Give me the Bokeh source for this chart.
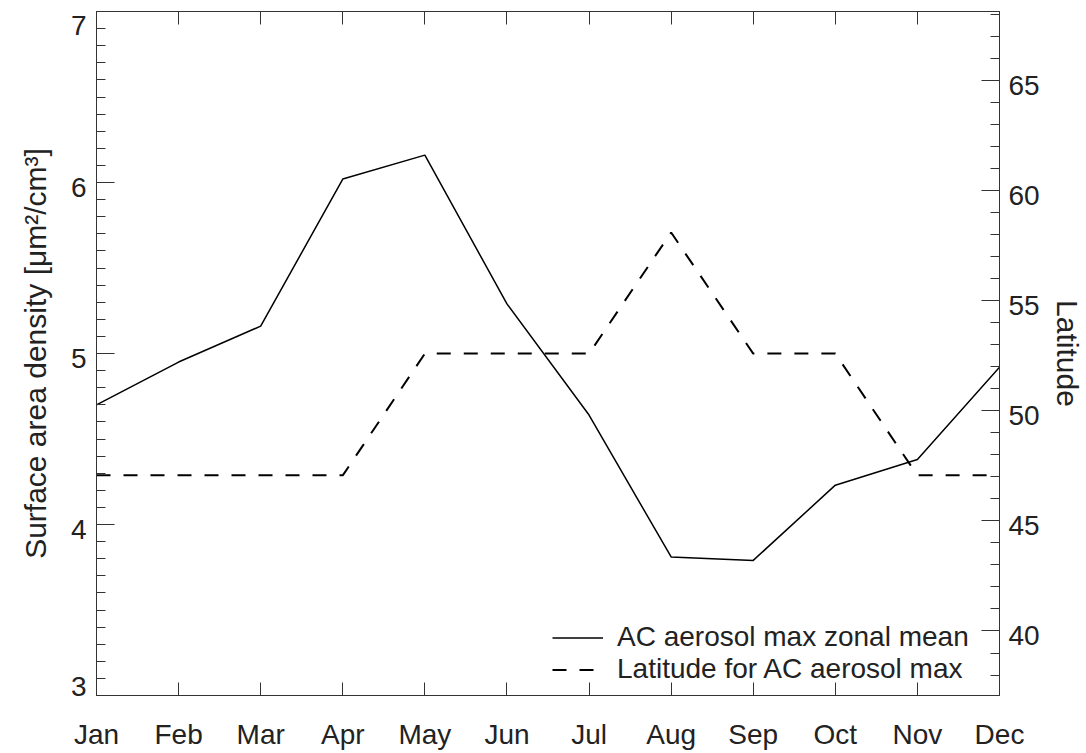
from bokeh.plotting import figure
from bokeh.models import (Range1d, LinearAxis, FixedTicker, Legend, LegendItem,
                          NumeralTickFormatter)
from bokeh.embed import file_html
from bokeh.resources import INLINE

# ---- data ----
months = ["Jan", "Feb", "Mar", "Apr", "May", "Jun",
          "Jul", "Aug", "Sep", "Oct", "Nov", "Dec"]
month_idx = list(range(len(months)))
surface_area = [4.70, 4.95, 5.16, 6.02, 6.16, 5.29, 4.64, 3.81, 3.79, 4.23, 4.38, 4.92]
latitude = [47.07, 47.07, 47.07, 47.07, 52.6, 52.6, 52.6, 58.1, 52.6, 52.6, 47.07, 47.07]
left_ticks = [3, 4, 5, 6, 7]
right_ticks = [40, 45, 50, 55, 60, 65]

FONT = "Liberation Sans"
FS = "28px"
FS_LAB = "30px"
TXT = "#222222"
AX = "#333333"

W, H = 1086, 753
BL, BR, BT, BB = 96, 83, 11, 58
Y0, Y1 = 3, 7
L0, L1 = 37.07, 68.14
frame_h = H - BT - BB

p = figure(width=W, height=H, output_backend="svg", toolbar_location=None,
           x_range=Range1d(0, 11), y_range=Range1d(Y0, Y1),
           min_border_left=BL, min_border_right=BR, min_border_top=BT, min_border_bottom=BB)
p.extra_y_ranges = {"lat": Range1d(L0, L1)}
p.xgrid.visible = False
p.ygrid.visible = False
p.outline_line_color = AX
p.background_fill_color = "white"
p.border_fill_color = "white"

NOLABEL = dict(major_label_text_font_size="0px", major_label_text_color=None,
               major_label_standoff=0)

# bottom axis
xa = p.xaxis[0]
xa.ticker = FixedTicker(ticks=month_idx, minor_ticks=[])
xa.major_label_overrides = {i: m for i, m in zip(month_idx, months)}
xa.major_tick_in = 13
xa.major_tick_out = 0
xa.minor_tick_line_color = None
xa.major_label_standoff = 23
xa.major_label_text_font = FONT
xa.major_label_text_font_size = FS
xa.major_label_text_color = TXT
xa.axis_line_color = AX
xa.major_tick_line_color = AX

# top axis (ticks only)
top = LinearAxis(ticker=FixedTicker(ticks=month_idx, minor_ticks=[]),
                 major_tick_in=13, major_tick_out=0, minor_tick_line_color=None,
                 axis_line_color=AX, major_tick_line_color=AX, **NOLABEL)
p.add_layout(top, "above")

# left axis: tick marks only
ya = p.yaxis[0]
ya.ticker = FixedTicker(ticks=left_ticks,
                        minor_ticks=[Y0 + k * 0.1 for k in range(41)])
ya.major_tick_in = 18
ya.major_tick_out = 0
ya.minor_tick_in = 9
ya.minor_tick_out = 0
ya.major_label_text_font_size = "0px"
ya.major_label_text_color = None
ya.major_label_standoff = 0
ya.axis_line_color = AX
ya.major_tick_line_color = AX
ya.minor_tick_line_color = AX

# left axis labels (slightly below the ticks, end labels nudged inward)
ppu_l = frame_h / (Y1 - Y0)
shift_l = {Y0: -9, Y1: 14}
left_lab_pos = [v - shift_l.get(v, 5) / ppu_l for v in left_ticks]
yl = LinearAxis(ticker=FixedTicker(ticks=left_lab_pos, minor_ticks=[]),
                formatter=NumeralTickFormatter(format="0"),
                major_tick_in=0, major_tick_out=0, major_tick_line_color=None,
                minor_tick_line_color=None, axis_line_color=None,
                major_label_standoff=10, major_label_text_font=FONT,
                major_label_text_font_size=FS, major_label_text_color=TXT,
                axis_label="Surface area density [\u03bcm\u00b2/cm\u00b3]",
                axis_label_text_font=FONT, axis_label_text_font_size=FS_LAB,
                axis_label_text_font_style="normal", axis_label_text_color=TXT,
                axis_label_standoff=16)
p.add_layout(yl, "left")

# right axis: tick marks only
ra = LinearAxis(y_range_name="lat",
                ticker=FixedTicker(ticks=right_ticks, minor_ticks=list(range(38, 69))),
                major_tick_in=18, major_tick_out=0, minor_tick_in=9, minor_tick_out=0,
                axis_line_color=AX, major_tick_line_color=AX, minor_tick_line_color=AX,
                **NOLABEL)
p.add_layout(ra, "right")

# right axis labels
ppu_r = frame_h / (L1 - L0)
right_lab_pos = [v - 5 / ppu_r for v in right_ticks]
rl = LinearAxis(y_range_name="lat",
                ticker=FixedTicker(ticks=right_lab_pos, minor_ticks=[]),
                formatter=NumeralTickFormatter(format="0"),
                major_tick_in=0, major_tick_out=0, major_tick_line_color=None,
                minor_tick_line_color=None, axis_line_color=None,
                major_label_standoff=9, major_label_text_font=FONT,
                major_label_text_font_size=FS, major_label_text_color=TXT,
                axis_label="Latitude", axis_label_text_font=FONT,
                axis_label_text_font_size=FS_LAB, axis_label_text_font_style="normal",
                axis_label_text_color=TXT, axis_label_standoff=8)
p.add_layout(rl, "right")

r1 = p.line(month_idx, surface_area, line_color="black", line_width=1.5)
r2 = p.line(month_idx, latitude, y_range_name="lat", line_color="black",
            line_width=2, line_dash="14 13")

leg_style = dict(orientation="vertical", glyph_width=51, glyph_height=25,
                 label_height=25, label_standoff=14, spacing=0, padding=0, margin=0,
                 label_text_font=FONT, label_text_font_size=FS, label_text_color=TXT,
                 border_line_color=None, background_fill_alpha=0)
leg1 = Legend(items=[LegendItem(label="AC aerosol max zonal mean", renderers=[r1])],
              location=(456, 42), **leg_style)
leg2 = Legend(items=[LegendItem(label="Latitude for AC aerosol max", renderers=[r2])],
              location=(456, 10), **leg_style)
p.add_layout(leg1, "center")
p.add_layout(leg2, "center")

open("out.html", "w").write(file_html(p, INLINE))
